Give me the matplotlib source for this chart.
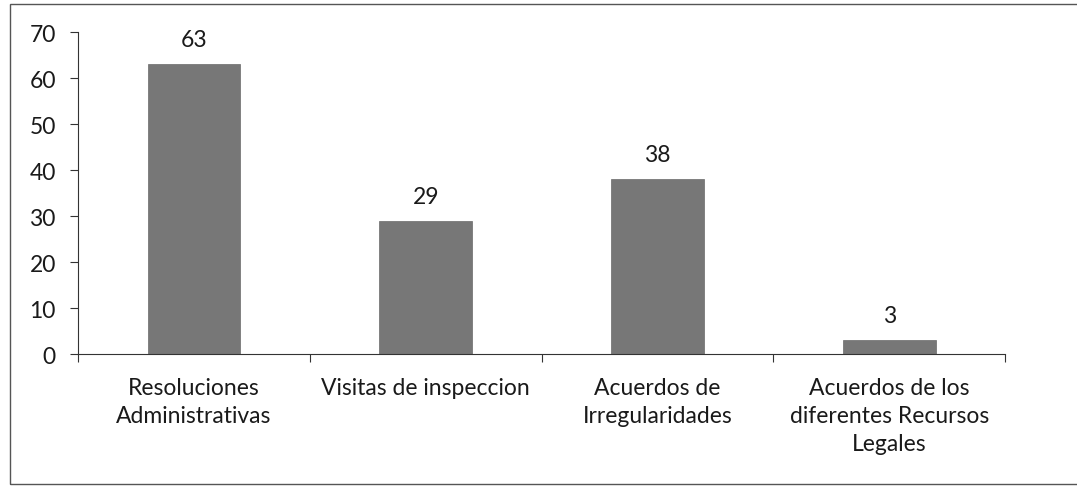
import numpy as np
import matplotlib.pyplot as plt
from matplotlib.patches import Rectangle

plt.rcParams['font.family'] = ['Lato', 'DejaVu Sans']

categories = ['Resoluciones\nAdministrativas', 'Visitas de inspeccion',
              'Acuerdos de\nIrregularidades',
              'Acuerdos de los\ndiferentes Recursos\nLegales']
values = [63, 29, 38, 3]
yticks = [0, 10, 20, 30, 40, 50, 60, 70]

fig = plt.figure(figsize=(10.77, 4.89), dpi=100)
ax = fig.add_axes([0.0724, 0.274, 0.861, 0.6585])

x = np.arange(len(values))
bars = ax.bar(x, values, width=0.4, color='#777777', edgecolor='#6a6a6a', linewidth=0.5)
for xi, v in zip(x, values):
    ax.text(xi, v + 3.0, str(v), ha='center', va='bottom', fontsize=16.5, color='#1a1a1a')

ax.set_xlim(-0.5, len(values) - 0.5)
ax.set_ylim(0, 70)
ax.set_yticks(yticks)
ax.set_yticklabels([str(t) for t in yticks], fontsize=16.5, color='#1a1a1a')
ax.set_xticks(np.arange(len(values) + 1) - 0.5, minor=False)
ax.set_xticklabels([])
ax.tick_params(axis='x', length=6, direction='out', color='#333333')
ax.tick_params(axis='y', length=6, direction='out', color='#333333', pad=10)
for xi, lab in zip(x, categories):
    ax.text(xi, -5.0, lab, ha='center', va='top', fontsize=16.5, color='#1a1a1a',
            linespacing=1.4)

for s in ['top', 'right']:
    ax.spines[s].set_visible(False)
ax.spines['left'].set_color('#333333')
ax.spines['bottom'].set_color('#333333')

# outer chart border
fig.patches.append(Rectangle((0.009, 0.008), 0.995, 0.982, transform=fig.transFigure,
                             fill=False, edgecolor='#555555', linewidth=1))

plt.savefig('out.png', dpi=100)
